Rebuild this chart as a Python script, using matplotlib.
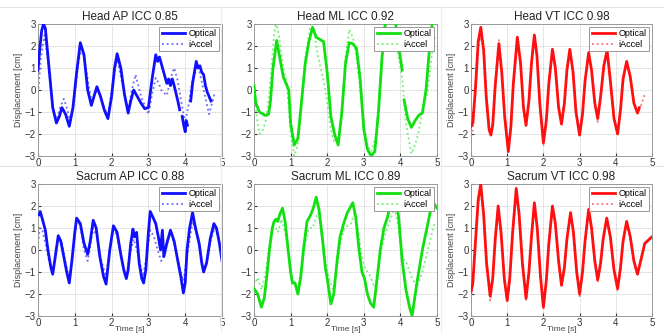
import numpy as np
import matplotlib
matplotlib.use("Agg")
import matplotlib.pyplot as plt

plt.rcParams['font.family'] = ['Liberation Sans', 'DejaVu Sans']

nan = np.nan

# ---- Head AP ----
head_ap_opt_t = [0.0, 0.05, 0.1, 0.15, 0.2, 0.3, 0.4, 0.5, 0.58, 0.65, 0.75, 0.85, 0.95, 1.05, 1.15, 1.25,
                 1.35, 1.45, 1.52, 1.6, 1.7, 1.8, 1.9, 2.0, 2.08, 2.15, 2.25, 2.35, 2.45, 2.52, 2.6, 2.7,
                 2.8, 2.9, 3.0, 3.1, 3.2, 3.25, 3.3, 3.4, 3.5, 3.55, 3.6, 3.65, 3.7, 3.8, 3.85, 3.88,
                 3.92, 3.96, 4.0, 4.03, 4.06, 4.1, 4.15, 4.2, 4.25, 4.3, 4.35, 4.4, 4.45, 4.5, 4.55,
                 4.6, 4.65, 4.7]
head_ap_opt_y = [0.9, 1.9, 2.7, 3.0, 2.8, 1.0, -0.8, -1.5, -1.2, -0.8, -1.1, -1.65, -0.8, 0.8, 2.15, 1.6,
                 0.0, -0.7, -0.3, 0.15, -0.3, -0.9, -1.3, -0.3, 1.0, 1.65, 1.0, -0.2, -1.05, -0.5, 0.0, -0.3,
                 -0.6, -0.85, -0.8, 0.5, 1.6, 1.3, 1.5, 0.9, 0.3, 0.5, 0.2, 0.5, 0.2, -0.5, -0.9, nan,
                 -1.2, -1.6, -1.9, -1.4, -1.6, nan, -0.5, 0.3, 0.8, 1.3, 1.0, 1.1, 0.8, 0.7, 0.2,
                 -0.1, -0.3, -0.5]
head_ap_acc_t = [0.0, 0.08, 0.18, 0.28, 0.4, 0.5, 0.6, 0.7, 0.8, 0.88, 1.0, 1.1, 1.2, 1.3, 1.45, 1.55,
                 1.62, 1.75, 1.9, 2.02, 2.15, 2.3, 2.45, 2.55, 2.65, 2.8, 2.95, 3.0, 3.1, 3.2, 3.28,
                 3.35, 3.5, 3.6, 3.7, 3.8, 3.9, 4.0, 4.1, 4.2, 4.35, 4.5, 4.65, 4.8]
head_ap_acc_y = [-0.15, 1.5, 2.5, 1.2, -0.7, -1.4, -0.8, -0.4, -0.9, -1.5, -0.2, 1.3, 1.95, 1.0, -0.5, -0.2,
                 0.1, -0.6, -1.2, 0.2, 1.4, 0.2, -0.9, 0.0, 0.7, -0.3, -0.9, -1.1, -0.2, 0.55, 0.3,
                 0.0, -0.25, 0.5, 1.0, 0.4, -0.6, -1.5, -0.6, 0.5, 1.1, 0.0, -1.1, -0.15]

# ---- Head ML ----
head_ml_opt_t = [0.0, 0.05, 0.15, 0.3, 0.4, 0.45, 0.52, 0.62, 0.7, 0.8, 0.9, 0.95, 1.0, 1.1, 1.2, 1.3,
                 1.4, 1.5, 1.6, 1.7, 1.8, 1.9, 2.0, 2.1, 2.2, 2.3, 2.4, 2.5, 2.6, 2.7, 2.8, 2.9, 3.0,
                 3.1, 3.2, 3.3, 3.4, 3.5, 3.6, 3.7, 3.8, 3.85, 3.95, 4.05, 4.08, 4.1, 4.2, 4.3, 4.4,
                 4.5, 4.6, 4.7, 4.8, 4.9]
head_ml_opt_y = [0.2, -0.6, -1.0, -1.15, -1.1, -0.5, 1.0, 2.25, 1.5, 0.6, 0.2, 0.0, -1.5, -2.5, -2.2, -0.5,
                 1.2, 2.2, 2.85, 2.4, 2.3, 2.2, 0.8, -1.2, -2.0, -2.5, -1.0, 1.2, 2.15, 2.1, 1.9, 0.5, -1.8,
                 -2.7, -3.0, -2.8, -1.0, 1.5, 3.2, 3.8, 3.6, 3.3, 2.0, 0.9, nan, -0.45, -1.3, -1.7, -1.4,
                 -1.15, -1.05, 0.0, 2.0, 3.5]
head_ml_acc_t = [0.0, 0.07, 0.15, 0.25, 0.35, 0.45, 0.55, 0.6, 0.68, 0.8, 0.9, 1.0, 1.1, 1.2, 1.3, 1.4,
                 1.55, 1.65, 1.75, 1.85, 1.95, 2.1, 2.2, 2.3, 2.4, 2.5, 2.6, 2.7, 2.8, 2.9, 3.0, 3.1,
                 3.2, 3.35, 3.45, 3.55, 3.7, 3.85, 3.95, 4.05, 4.15, 4.3, 4.4, 4.5, 4.6, 4.75, 4.85, 4.95]
head_ml_acc_y = [0.4, -1.2, -2.0, -1.8, -1.2, 0.5, 2.5, 3.1, 2.5, 1.0, 0.3, -2.0, -3.0, -2.5, -0.8, 1.5,
                 3.0, 2.6, 1.5, 0.8, 0.0, -1.8, -2.4, -2.3, -1.0, 1.5, 2.75, 2.4, 1.5, 0.0, -1.5, -2.5,
                 -2.8, -2.0, 0.5, 3.1, 3.5, 3.0, 1.5, 0.5, -1.5, -2.9, -2.5, -1.9, -1.0, 0.0, 1.5, 2.5]

# ---- Head VT ----
head_vt_t = [0.0, 0.05, 0.12, 0.2, 0.27, 0.35, 0.42, 0.5, 0.55, 0.6, 0.67, 0.77, 0.85, 0.93, 1.03, 1.1,
             1.17, 1.28, 1.37, 1.45, 1.52, 1.6, 1.67, 1.75, 1.82, 1.9, 2.0, 2.08, 2.15, 2.25, 2.33, 2.42,
             2.5, 2.58, 2.65, 2.73, 2.82, 2.9, 3.0, 3.08, 3.15, 3.25, 3.33, 3.42, 3.5, 3.58, 3.67, 3.76,
             3.85, 3.95, 4.05, 4.13, 4.2, 4.3, 4.4, 4.5, 4.6, 4.65]
head_vt_opt_y = [-1.65, -1.5, 0.0, 2.2, 2.85, 1.8, -0.3, -1.8, -2.05, -1.6, 0.2, 2.1, 0.8, -1.2, -2.8, -1.7,
                 0.3, 2.4, 1.2, -0.8, -1.6, -0.5, 1.2, 2.5, 1.6, -0.6, -2.4, -1.4, 0.3, 1.85, 1.0, -0.8,
                 -1.55, -0.6, 0.9, 1.85, 0.8, -1.0, -2.05, -1.1, 0.4, 1.7, 0.9, -0.6, -1.3, -0.3, 1.1, 1.8,
                 0.4, -1.3, -2.0, -0.9, 0.5, 1.3, 0.6, -0.6, -1.05, -0.8]
head_vt_acc_t = head_vt_t[:-1] + [4.7, 4.8]
head_vt_acc_y = [-2.1, -1.8, -0.2, 1.9, 2.5, 1.7, -0.2, -1.7, -2.0, -1.5, 0.4, 2.3, 0.9, -1.2, -2.8, -1.8,
                 0.2, 2.3, 1.1, -0.9, -1.7, -0.6, 1.1, 2.5, 1.6, -0.6, -2.5, -1.5, 0.2, 1.8, 1.0, -0.8,
                 -1.5, -0.6, 0.9, 1.8, 0.8, -1.0, -2.0, -1.1, 0.4, 1.65, 0.9, -0.6, -1.45, -0.4, 1.2, 1.9,
                 0.6, -1.2, -2.0, -1.0, 0.4, 1.3, 0.6, -0.6, -1.05, -0.7, -0.2]

# ---- Sacrum AP ----
sac_ap_opt_t = [0.03, 0.06, 0.12, 0.2, 0.27, 0.35, 0.4, 0.47, 0.55, 0.62, 0.7, 0.78, 0.85, 0.92, 1.0, 1.05,
                1.15, 1.25, 1.35, 1.42, 1.5, 1.58, 1.68, 1.78, 1.85, 1.95, 2.05, 2.15, 2.25, 2.33, 2.4,
                2.45, 2.52, 2.58, 2.62, 2.68, 2.75, 2.82, 2.87, 2.93, 3.0, 3.05, 3.12, 3.2, 3.27, 3.33,
                3.38, 3.42, 3.5, 3.6, 3.7, 3.8, 3.88, 3.95, 4.0, 4.05, 4.12, 4.2, 4.28, 4.38, 4.45, 4.5,
                4.58, 4.68, 4.78, 4.85, 4.93, 5.0]
sac_ap_opt_y = [1.6, 1.75, 1.4, 0.9, 0.0, -0.8, -1.1, -0.3, 0.65, 0.4, -0.3, -1.0, -1.5, -0.5, 0.8, 1.45,
                1.2, 0.3, -0.2, 0.4, 1.35, 1.0, -0.3, -1.2, -1.55, 0.0, 1.1, 0.8, -0.2, -0.9, -1.3,
                -0.9, 0.3, 0.95, 0.6, 0.8, -0.6, -1.3, -1.5, -0.9, 0.8, 1.75, 1.5, 1.2, 0.6, 0.0,
                0.9, -0.3, 0.3, 0.9, 0.4, -0.5, -1.2, -1.95, -1.5, 0.0, 1.0, 1.7, 1.0, 0.3, -0.6, -1.0,
                -0.6, 0.5, 1.2, 1.0, 0.3, -0.5]
sac_ap_acc_t = [0.0, 0.05, 0.12, 0.2, 0.3, 0.4, 0.47, 0.55, 0.65, 0.75, 0.85, 0.95, 1.05, 1.15, 1.25, 1.35,
                1.42, 1.5, 1.6, 1.72, 1.85, 1.95, 2.05, 2.15, 2.3, 2.4, 2.5, 2.6, 2.72, 2.85, 2.95,
                3.05, 3.15, 3.25, 3.35, 3.45, 3.6, 3.72, 3.85, 3.95, 4.05, 4.2, 4.3, 4.4, 4.5, 4.6,
                4.7, 4.8, 4.9, 5.0]
sac_ap_acc_y = [0.3, 1.0, 0.9, 0.3, -0.5, -0.9, -0.2, 0.6, 0.3, -0.6, -1.3, -0.2, 1.4, 1.1, 0.0, -0.5,
                0.2, 1.0, 0.6, -0.5, -1.2, 0.0, 1.0, 0.6, -0.7, -1.2, -0.2, 0.5, -0.2, -1.2, -0.3,
                0.9, 0.6, 0.0, -0.5, -0.1, 0.8, 0.2, -0.8, -1.4, -0.3, 1.3, 0.8, 0.0, -0.9, -0.4,
                0.5, 1.0, 0.6, -0.3]

# ---- Sacrum ML ----
sac_ml_opt_t = [0.0, 0.1, 0.2, 0.28, 0.35, 0.42, 0.5, 0.55, 0.6, 0.65, 0.7, 0.78, 0.85, 0.92, 1.0, 1.05,
                1.12, 1.2, 1.28, 1.35, 1.45, 1.55, 1.62, 1.7, 1.78, 1.87, 1.95, 2.02, 2.1, 2.18, 2.27,
                2.35, 2.45, 2.55, 2.62, 2.7, 2.78, 2.87, 2.95, 3.02, 3.1, 3.18, 3.27, 3.35, 3.45, 3.55,
                3.65, 3.75, 3.85, 3.95, 4.05, 4.15, 4.25, 4.32, 4.45, 4.6, 4.75, 4.85, 4.92, 5.0]
sac_ml_opt_y = [-1.75, -2.0, -2.6, -2.2, -1.2, 0.0, 1.0, 1.3, 1.4, 1.3, 1.6, 1.9, 1.3, 0.2, -1.0, -1.5,
                -1.5, -2.0, -1.2, 0.0, 1.3, 1.6, 1.9, 2.4, 1.8, 0.5, -0.8, -1.5, -2.45, -2.0, -0.5,
                0.6, 1.2, 1.7, 1.9, 2.15, 1.5, 0.0, -1.0, -1.3, -2.0, -2.4, -2.6, -1.5, 0.0, 1.0,
                1.5, 2.3, 2.8, 1.5, -0.5, -1.8, -2.6, -3.0, -1.5, 0.0, 1.2, 2.0, 2.1, 1.9]
sac_ml_acc_t = [0.0, 0.05, 0.1, 0.2, 0.3, 0.4, 0.5, 0.6, 0.65, 0.75, 0.85, 0.95, 1.05, 1.12, 1.2, 1.3,
                1.4, 1.5, 1.6, 1.7, 1.75, 1.85, 1.95, 2.05, 2.15, 2.25, 2.35, 2.45, 2.55, 2.65, 2.75,
                2.85, 2.95, 3.05, 3.15, 3.3, 3.4, 3.5, 3.6, 3.75, 3.85, 3.95, 4.05, 4.15, 4.3, 4.45,
                4.6, 4.75, 4.85, 4.95]
sac_ml_acc_y = [-1.4, -1.5, -1.25, -1.8, -1.2, 0.0, 0.9, 1.0, 0.8, 1.4, 0.8, -0.2, -1.4, -1.5, -1.75, -0.8,
                0.3, 1.0, 1.0, 1.5, 1.7, 0.8, -0.5, -1.3, -1.8, -1.0, 0.2, 0.9, 1.1, 1.2, 1.7,
                0.8, -0.3, -0.9, -1.1, -1.7, -0.8, 0.2, 0.8, 1.5, 1.9, 1.0, -0.4, -0.5, -1.2, -1.7,
                -1.0, 0.0, 0.7, 1.3]

# ---- Sacrum VT ----
sac_vt_t = [0.0, 0.05, 0.12, 0.2, 0.27, 0.35, 0.43, 0.53, 0.6, 0.67, 0.75, 0.83, 0.92, 1.0, 1.07, 1.15,
            1.25, 1.33, 1.42, 1.52, 1.6, 1.67, 1.75, 1.83, 1.92, 2.0, 2.08, 2.15, 2.25, 2.33, 2.42, 2.5,
            2.58, 2.65, 2.75, 2.83, 2.92, 3.0, 3.08, 3.15, 3.25, 3.33, 3.42, 3.5, 3.58, 3.65, 3.75, 3.85,
            3.95, 4.05, 4.13, 4.2, 4.3, 4.4, 4.5, 4.6, 4.7, 4.8, 4.9, 5.0]
sac_vt_opt_y = [-1.9, -1.5, 0.3, 2.3, 3.0, 1.6, -0.6, -2.1, -1.3, 0.5, 2.0, 0.8, -1.3, -2.3, -1.3, 0.8,
                2.8, 1.6, -0.6, -2.2, -1.0, 0.6, 2.15, 1.0, -1.2, -2.6, -1.4, 0.3, 2.0, 1.2, -0.5, -1.6,
                -0.8, 0.5, 1.7, 0.8, -1.0, -2.0, -1.0, 0.4, 1.85, 1.0, -0.5, -1.35, -0.6, 0.5, 1.45, 0.6,
                -0.9, -1.75, -0.8, 0.4, 1.3, 0.6, -0.5, -1.1, -0.4, 0.3, 0.45, 0.6]
sac_vt_acc_y = [-2.1, -1.7, 0.1, 2.1, 2.6, 1.5, -0.7, -2.3, -1.4, 0.4, 1.9, 0.7, -1.4, -2.3, -1.4, 0.7,
                2.6, 1.5, -0.7, -2.3, -1.1, 0.5, 2.1, 0.9, -1.3, -2.7, -1.5, 0.2, 2.0, 1.1, -0.6, -1.7,
                -0.9, 0.4, 1.7, 0.7, -1.1, -2.1, -1.1, 0.3, 1.85, 0.9, -0.6, -1.5, -0.7, 0.4, 1.5, 0.5,
                -1.0, -1.9, -0.9, 0.3, 1.3, 0.5, -0.6, -1.15, -0.5, 0.3, 0.45, 0.6]

titles = ['Head AP ICC 0.85', 'Head ML ICC 0.92', 'Head VT ICC 0.98',
          'Sacrum AP ICC 0.88', 'Sacrum ML ICC 0.89', 'Sacrum VT ICC 0.98']
panels = [
    (head_ap_opt_t, head_ap_opt_y, head_ap_acc_t, head_ap_acc_y),
    (head_ml_opt_t, head_ml_opt_y, head_ml_acc_t, head_ml_acc_y),
    (head_vt_t, head_vt_opt_y, head_vt_acc_t, head_vt_acc_y),
    (sac_ap_opt_t, sac_ap_opt_y, sac_ap_acc_t, sac_ap_acc_y),
    (sac_ml_opt_t, sac_ml_opt_y, sac_ml_acc_t, sac_ml_acc_y),
    (sac_vt_t, sac_vt_opt_y, sac_vt_t, sac_vt_acc_y),
]
colors = [('#1010ff', '#6a6aff'), ('#10e010', '#70f070'), ('#ff1010', '#ff7070')]

W, H = 664, 333
fig = plt.figure(figsize=(W / 100, H / 100), dpi=100)

# axes boxes in pixels: left, top, width, height
lefts = [38, 254, 471]
widths = [184, 183, 181]
tops = [24, 184]
ah = 132

# faint borders of the pasted panels
for y in [7, 166]:
    fig.add_artist(plt.Line2D([0, 1], [1 - y / H, 1 - y / H], color='#e4e4e4', lw=0.8))
for x in [221, 441]:
    fig.add_artist(plt.Line2D([x / W, x / W], [0, 1 - 7 / H], color='#ececec', lw=0.8))

for i, (ot, oy, at, ay) in enumerate(panels):
    r, c = divmod(i, 3)
    ax = fig.add_axes([lefts[c] / W, 1 - (tops[r] + ah) / H, widths[c] / W, ah / H])
    col, col2 = colors[c]
    ax.plot(ot, oy, color=col, lw=2.0, label='Optical', zorder=3, solid_joinstyle='round')
    ax.plot(at, ay, color=col2, lw=1.3, ls=':', label='iAccel', zorder=2)
    ax.set_xlim(0, 5)
    ax.set_ylim(-3, 3)
    ax.set_xticks(range(6))
    ax.set_yticks(range(-3, 4))
    ax.grid(True, ls=(0, (1, 1)), color='#c4c4c4', lw=0.6)
    ax.tick_params(labelsize=7, colors='#333333', direction='in', length=2, pad=1.5)
    for s in ax.spines.values():
        s.set_color('#999999')
        s.set_linewidth(0.7)
    ax.set_title(titles[i], fontsize=8.5, pad=3, color='#222222')
    if c != 1:
        ax.set_ylabel('Displacement [cm]', fontsize=6.5, color='#444444', labelpad=1)
    if r == 1:
        ax.set_xlabel('Time [s]', fontsize=6, color='#444444', labelpad=-1.5)
    leg = ax.legend(loc='upper right', fontsize=6.5, handlelength=2.6, borderpad=0.3,
                    labelspacing=0.15, handletextpad=0.4, framealpha=1, fancybox=False,
                    borderaxespad=0.3)
    leg.get_frame().set_edgecolor('#888888')
    leg.get_frame().set_linewidth(0.6)

fig.savefig('out.png', dpi=100)
